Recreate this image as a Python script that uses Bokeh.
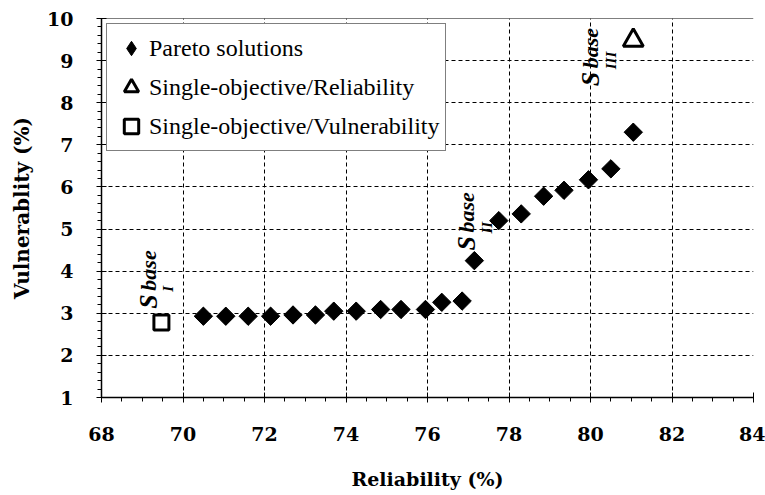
import numpy as np
from bokeh.plotting import figure
from bokeh.models import Range1d, FixedTicker, Legend, LegendItem, Span
from bokeh.core.properties import value
from bokeh.embed import file_html
from bokeh.resources import INLINE

# ---- data ----
pareto_reliability = [70.5, 71.05, 71.6, 72.15, 72.7, 73.25, 73.7, 74.25, 74.85, 75.35,
                      75.95, 76.35, 76.85, 77.15, 77.75, 78.3, 78.85, 79.35, 79.95, 80.5, 81.05]
pareto_vulnerability = [2.93, 2.93, 2.93, 2.93, 2.96, 2.96, 3.05, 3.05, 3.09, 3.09,
                        3.09, 3.26, 3.29, 4.25, 5.2, 5.36, 5.78, 5.92, 6.17, 6.43, 7.3]
single_rel_reliability = [81.05]
single_rel_vulnerability = [9.48]
single_vul_reliability = [69.47]
single_vul_vulnerability = [2.78]

x_ticks = [68, 70, 72, 74, 76, 78, 80, 82, 84]
y_ticks = [1, 2, 3, 4, 5, 6, 7, 8, 9, 10]
series_labels = ["Pareto solutions", "Single-objective/Reliability", "Single-objective/Vulnerability"]

annot_main = ["S", "S", "S"]
annot_sup = ["base", "base", "base"]
annot_sub = ["I", "II", "III"]
annot_x = [69.15, 76.96, 80.0]
annot_y = [3.11, 4.49, 8.39]

SERIF = "Liberation Serif"
AXIS_FONT = "DejaVu Serif"

p = figure(width=765, height=495, output_backend="svg", toolbar_location=None,
           x_range=Range1d(68, 84), y_range=Range1d(1, 10),
           min_border_left=101, min_border_right=12, min_border_top=18, min_border_bottom=98)
p.background_fill_color = "white"
p.border_fill_color = "white"
p.outline_line_color = None

# axes
p.xaxis.ticker = FixedTicker(ticks=x_ticks, minor_ticks=list(np.arange(68, 84.01, 0.5)))
p.yaxis.ticker = FixedTicker(ticks=y_ticks, minor_ticks=list(np.arange(1, 10.01, 0.2)))
for ax in (p.xaxis[0], p.yaxis[0]):
    ax.axis_line_color = "black"
    ax.axis_line_width = 1.5
    ax.major_tick_line_color = "black"
    ax.minor_tick_line_color = "black"
    ax.major_tick_in = 5
    ax.major_tick_out = 5
    ax.minor_tick_in = 0
    ax.minor_tick_out = 4
    ax.major_label_text_font = AXIS_FONT
    ax.major_label_text_font_style = "bold"
    ax.major_label_text_font_size = "19px"
    ax.major_label_text_color = "black"
    ax.axis_label_text_font = AXIS_FONT
    ax.axis_label_text_font_style = "bold"
    ax.axis_label_text_color = "black"
p.xaxis.axis_label_text_font_size = "19px"
p.yaxis.axis_label_text_font_size = "20px"
p.xaxis.major_label_standoff = 24
p.yaxis.major_label_standoff = 23
p.xaxis.axis_label = "Reliability (%)"
p.yaxis.axis_label = "Vulnerablity (%)"
p.xaxis.axis_label_standoff = 24
p.yaxis.axis_label_standoff = 10

# grid
for g in (p.xgrid[0], p.ygrid[0]):
    g.grid_line_color = "black"
    g.grid_line_dash = "4 3"
    g.grid_line_width = 1
p.xgrid.ticker = FixedTicker(ticks=x_ticks)
p.ygrid.ticker = FixedTicker(ticks=y_ticks)
p.add_layout(Span(location=10, dimension="width", line_color="black", line_width=1))

# glyphs: diamond marker (used for the legend key) under rotated squares
r_pareto_key = p.scatter(pareto_reliability, pareto_vulnerability, marker="diamond", size=17,
                         fill_color="black", line_color="black")
r_pareto = p.scatter(pareto_reliability, pareto_vulnerability, marker="square", angle=np.pi / 4,
                     size=13, fill_color="black", line_color="black")
r_rel = p.scatter(single_rel_reliability, single_rel_vulnerability, marker="triangle", size=20,
                  fill_color="white", line_color="black", line_width=3)
r_vul = p.scatter(single_vul_reliability, single_vul_vulnerability, marker="square", size=15,
                  fill_color="white", line_color="black", line_width=3)

# S labels
common = dict(angle=np.pi / 2, text_font=value("Liberation Serif"), text_font_style="bold italic",
              text_color="black", text_align="left", text_baseline="alphabetic")
p.text(x=annot_x, y=annot_y, text=annot_main, text_font_size="26px", **common)
p.text(x=annot_x, y=annot_y, text=annot_sup, text_font_size="22px", y_offset=-18, **common)
p.text(x=annot_x, y=annot_y, text=annot_sub, text_font_size="15px", x_offset=20, y_offset=-17, **common)

legend = Legend(items=[LegendItem(label=series_labels[0], renderers=[r_pareto_key]),
                       LegendItem(label=series_labels[1], renderers=[r_rel]),
                       LegendItem(label=series_labels[2], renderers=[r_vul])],
                location="top_left")
legend.label_text_font = SERIF
legend.label_text_font_size = "24px"
legend.label_text_color = "black"
legend.glyph_width = 36
legend.glyph_height = 36
legend.label_height = 36
legend.label_standoff = 0
legend.spacing = 3
legend.padding = 6
legend.margin = 5
legend.border_line_color = "black"
legend.border_line_width = 1.5
legend.background_fill_color = "white"
legend.background_fill_alpha = 1
p.add_layout(legend)

open("out.html", "w").write(file_html(p, INLINE))
